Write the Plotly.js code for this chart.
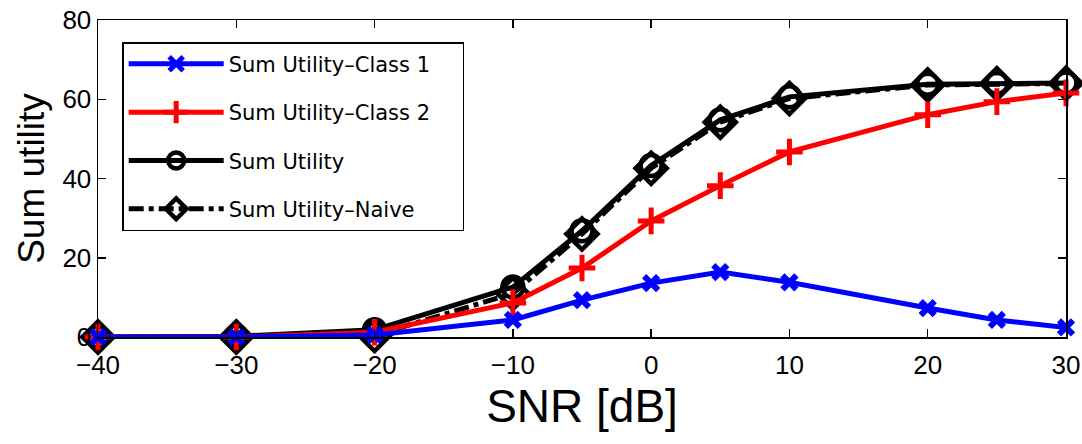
<!DOCTYPE html>
<html>
<head>
<meta charset="utf-8">
<script src="https://cdn.plot.ly/plotly-3.0.1.min.js"></script>
<style>html,body{margin:0;padding:0;background:#fff;}#chart{width:1082px;height:444px;}</style>
</head>
<body>
<div id="chart"></div>
<script>
const snr = [-40, -30, -20, -10, -5, 0, 5, 10, 20, 25, 30];
const class1 = [0, 0, 0.5, 4.3, 9.3, 13.6, 16.4, 13.8, 7.3, 4.3, 2.4];
const class2 = [0, 0, 1.2, 8.6, 17.4, 29.3, 38.2, 46.7, 56.1, 59.4, 61.6];
const sumUtility = [0, 0.2, 1.8, 12.6, 26.8, 43.3, 54.8, 60.6, 63.8, 64.0, 64.1];
const sumNaive = [0, 0, 0.4, 11.0, 26.0, 42.6, 54.2, 60.2, 63.6, 63.9, 64.0];
const names = ['Sum Utility\u2013Class 1', 'Sum Utility\u2013Class 2', 'Sum Utility', 'Sum Utility\u2013Naive'];
const pad = '\u00a0\u00a0\u00a0\u00a0';

const traces = [
  {x: snr, y: sumNaive, name: names[3], mode: 'lines+markers', legendrank: 4, legendgroup: 'd', cliponaxis: false,
   line: {color: '#000', width: 5, dash: 'dashdot'},
   marker: {symbol: 'diamond-open', size: 24, color: '#000', line: {width: 4.5, color: '#000'}}},
  {x: snr, y: sumUtility, name: names[2], mode: 'lines+markers', legendrank: 3, legendgroup: 'c', cliponaxis: false,
   line: {color: '#000', width: 5},
   marker: {symbol: 'circle-open', size: 21, color: '#000', line: {width: 4.5, color: '#000'}}},
  {x: snr, y: class2, name: names[1] + pad, mode: 'lines+markers', legendrank: 2, legendgroup: 'b', cliponaxis: false,
   line: {color: '#ff0000', width: 5},
   marker: {symbol: 'cross-thin-open', size: 19, color: '#ff0000', line: {width: 5, color: '#ff0000'}}},
  {x: snr, y: class1, name: names[0], mode: 'lines+markers', legendrank: 1, legendgroup: 'a', cliponaxis: false,
   line: {color: '#0000ff', width: 5},
   marker: {symbol: 'x-thin-open', size: 14, color: '#0000ff', line: {width: 6, color: '#0000ff'}}}
];

const font = 'Liberation Sans, Arial, Helvetica, sans-serif';
const layout = {
  width: 1082, height: 444,
  margin: {l: 98, r: 16, t: 20, b: 107},
  paper_bgcolor: '#fff', plot_bgcolor: '#fff',
  font: {family: font, color: '#000'},
  showlegend: true,
  legend: {
    x: 0.025, y: 0.93, xanchor: 'left', yanchor: 'top',
    bgcolor: '#fff', bordercolor: '#000', borderwidth: 1.5,
    font: {size: 21, family: 'DejaVu Sans, sans-serif'},
    tracegroupgap: 18, traceorder: 'grouped', itemwidth: 95
  },
  xaxis: {
    range: [-40, 30], tickvals: [-40, -30, -20, -10, 0, 10, 20, 30],
    ticks: 'inside', ticklen: 8, tickwidth: 1.5, tickcolor: '#000',
    showline: true, linecolor: '#000', linewidth: 1.5, mirror: 'ticks',
    showgrid: false, zeroline: false,
    tickfont: {size: 26}, ticklabelstandoff: 4,
    title: {text: 'SNR [dB]', font: {size: 46}, standoff: 6}
  },
  yaxis: {
    range: [0, 80], tickvals: [0, 20, 40, 60, 80],
    ticks: 'inside', ticklen: 8, tickwidth: 1.5, tickcolor: '#000',
    showline: true, linecolor: '#000', linewidth: 1.5, mirror: 'ticks',
    showgrid: false, zeroline: false,
    tickfont: {size: 26},
    title: {text: 'Sum utility', font: {size: 37}, standoff: 6}
  }
};

Plotly.newPlot('chart', traces, layout, {displayModeBar: false, staticPlot: true});
</script>
</body>
</html>
